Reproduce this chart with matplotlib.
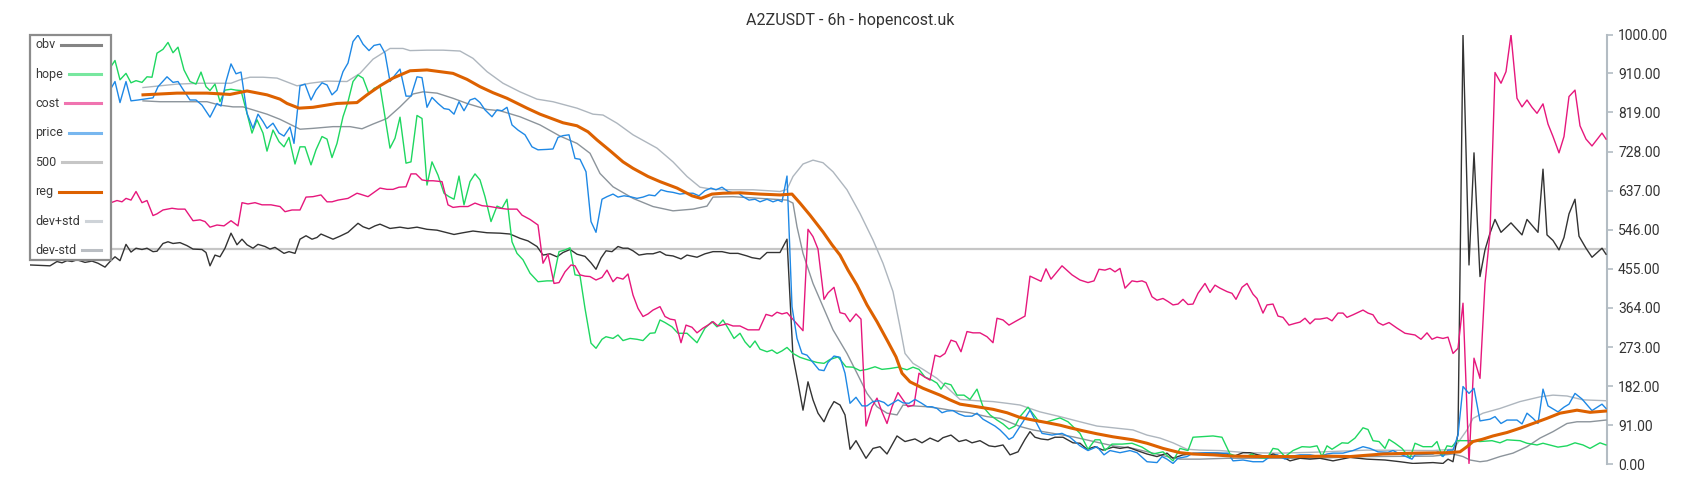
import matplotlib
matplotlib.use("Agg")
import matplotlib.pyplot as plt
from matplotlib.lines import Line2D
from matplotlib.patches import Rectangle

plt.rcParams['font.family'] = ['Roboto', 'DejaVu Sans']

title = "A2ZUSDT - 6h - hopencost.uk"
labels = ["obv", "hope", "cost", "price", "500", "reg", "dev+std", "dev-std"]
y_ticks = [0, 91, 182, 273, 364, 455, 546, 637, 728, 819, 910, 1000]
level_500 = 500
t_end = 1577

# (time step, value) pairs
obv = [(0,464),(20,462),(27,472),(32,469),(37,474),(42,472),(47,476),(55,470),(62,473),(68,468),(75,459),(80,472),(85,483),(90,474),(96,512),(101,494),(106,503),(112,500),(117,503),(123,495),(127,496),(133,514),(138,518),(143,514),(150,516),(157,509),(163,501),(172,500),(176,493),(180,462),(185,487),(190,483),(195,503),(201,538),(207,511),(212,524),(217,511),(223,503),(228,512),(235,507),(240,501),(245,505),(254,491),(259,495),(265,491),(270,524),(276,532),(282,524),(287,528),(291,536),(297,530),(303,524),(310,531),(318,540),(328,561),(333,553),(339,548),(345,555),(350,559),(360,549),(370,552),(378,549),(387,552),(397,547),(407,545),(417,539),(424,535),(433,539),(443,543),(457,539),(470,538),(480,536),(490,526),(498,520),(507,507),(513,487),(520,490),(527,483),(533,493),(540,500),(547,489),(555,484),(561,469),(566,454),(571,480),(576,497),(582,495),(588,507),(593,503),(598,503),(603,497),(609,487),(617,490),(623,490),(630,495),(636,487),(643,485),(651,478),(657,487),(667,482),(675,490),(683,495),(692,495),(700,491),(708,491),(717,485),(722,481),(730,478),(737,493),(750,493),(757,524),(763,250),(768,190),(773,126),(778,192),(783,150),(788,119),(794,99),(799,126),(804,146),(810,138),(815,115),(820,35),(826,55),(836,14),(843,37),(850,41),(857,24),(867,66),(875,53),(885,59),(892,50),(900,61),(908,53),(913,62),(921,68),(929,53),(936,57),(942,50),(950,55),(959,43),(965,41),(973,45),(980,22),(988,29),(995,58),(1000,76),(1005,63),(1011,59),(1018,57),(1025,63),(1033,63),(1043,50),(1050,49),(1057,35),(1065,41),(1073,33),(1083,40),(1090,37),(1098,40),(1107,32),(1117,24),(1127,18),(1137,26),(1143,14),(1153,22),(1163,24),(1177,26),(1187,26),(1197,24),(1203,18),(1213,27),(1220,27),(1228,22),(1237,18),(1243,24),(1252,18),(1260,8),(1270,14),(1280,12),(1290,14),(1303,8),(1320,16),(1337,12),(1355,10),(1370,6),(1383,2),(1403,4),(1413,2),(1418,12),(1423,6),(1428,72),(1433,1000),(1439,464),(1444,725),(1450,437),(1455,499),(1460,538),(1465,570),(1471,540),(1481,562),(1492,534),(1497,570),(1508,540),(1513,687),(1517,534),(1523,521),(1529,499),(1534,528),(1539,583),(1545,617),(1549,531),(1556,503),(1562,482),(1572,503),(1576,489)]

hope = [(0,920),(20,935),(40,905),(60,915),(81,926),(85,940),(90,895),(96,910),(101,888),(106,893),(112,889),(117,902),(122,901),(127,957),(133,966),(138,982),(143,958),(148,971),(154,918),(160,891),(166,885),(171,913),(176,879),(180,870),(185,885),(190,844),(195,871),(201,873),(206,871),(211,870),(217,817),(222,771),(227,802),(233,771),(237,729),(243,778),(249,751),(254,739),(259,761),(265,699),(270,739),(275,739),(281,697),(286,732),(292,763),(297,757),(302,714),(307,747),(313,809),(318,844),(323,891),(328,906),(333,899),(339,862),(344,875),(350,881),(355,809),(360,736),(365,759),(370,808),(376,701),(381,704),(387,812),(392,805),(397,650),(402,704),(408,673),(414,631),(419,623),(424,617),(429,671),(434,604),(440,658),(445,676),(450,662),(455,623),(461,565),(467,601),(472,596),(477,617),(482,518),(487,491),(493,476),(500,445),(508,425),(517,427),(523,427),(529,495),(535,499),(540,504),(545,441),(550,439),(555,363),(561,282),(566,270),(572,291),(576,297),(583,293),(588,301),(593,288),(600,293),(607,291),(613,288),(620,305),(625,306),(630,336),(635,330),(642,320),(648,305),(657,305),(667,283),(675,317),(682,332),(687,320),(693,336),(698,317),(704,293),(710,305),(715,285),(720,272),(725,287),(730,268),(737,262),(742,266),(747,258),(752,264),(757,272),(763,258),(770,249),(778,243),(787,237),(794,235),(800,244),(808,250),(816,227),(823,226),(830,218),(837,221),(845,227),(852,221),(860,223),(868,226),(877,220),(883,226),(889,221),(895,203),(902,196),(907,189),(911,175),(915,189),(921,185),(927,161),(934,161),(940,151),(947,175),(953,134),(960,115),(967,103),(973,94),(979,82),(985,89),(990,111),(998,133),(1009,99),(1017,99),(1030,108),(1038,99),(1050,72),(1058,35),(1065,57),(1070,57),(1075,32),(1082,47),(1092,47),(1102,49),(1112,40),(1123,24),(1133,29),(1143,8),(1150,37),(1158,32),(1163,63),(1183,66),(1192,63),(1200,24),(1208,18),(1217,19),(1222,24),(1228,16),(1237,14),(1243,37),(1248,35),(1255,18),(1263,32),(1272,41),(1280,40),(1287,43),(1292,18),(1297,43),(1302,35),(1312,50),(1318,49),(1325,61),(1333,85),(1338,81),(1343,55),(1349,53),(1355,37),(1359,58),(1365,49),(1372,37),(1380,14),(1385,49),(1393,41),(1402,41),(1407,53),(1412,19),(1417,43),(1422,41),(1427,55),(1440,55),(1450,53),(1462,55),(1470,50),(1477,57),(1490,55),(1497,49),(1507,45),(1513,49),(1528,40),(1537,43),(1545,50),(1553,45),(1560,37),(1570,50),(1576,45)]

cost = [(0,600),(20,598),(40,612),(60,604),(81,609),(87,614),(92,611),(96,619),(101,615),(106,635),(112,609),(117,614),(123,579),(127,583),(133,592),(142,596),(148,594),(155,594),(163,567),(170,569),(175,565),(180,552),(187,557),(194,555),(201,567),(208,555),(212,609),(218,606),(225,609),(232,604),(241,604),(250,600),(255,588),(262,592),(270,592),(276,622),(283,623),(291,627),(297,611),(302,611),(308,615),(318,619),(327,631),(330,629),(338,623),(350,643),(357,640),(363,640),(369,645),(376,646),(381,676),(386,676),(392,662),(397,660),(403,660),(412,658),(418,604),(423,598),(430,600),(438,600),(445,608),(452,602),(460,600),(470,596),(477,594),(487,594),(492,580),(500,570),(508,557),(513,468),(518,489),(524,421),(529,423),(535,448),(541,464),(545,462),(550,441),(555,438),(560,437),(566,429),(572,435),(577,452),(583,425),(587,435),(593,431),(598,443),(603,394),(608,363),(613,344),(618,350),(623,359),(630,367),(635,344),(640,338),(645,336),(651,283),(656,324),(662,319),(667,306),(673,317),(678,324),(683,332),(688,322),(697,327),(703,322),(710,322),(718,313),(723,313),(729,313),(736,349),(742,345),(747,354),(752,350),(757,353),(765,332),(773,311),(778,547),(783,530),(788,501),(794,384),(798,399),(804,412),(810,353),(815,350),(820,332),(826,350),(831,338),(836,89),(842,134),(847,154),(852,122),(857,95),(862,134),(868,167),(873,150),(878,134),(884,138),(889,212),(894,204),(900,196),(905,254),(910,250),(915,258),(921,289),(926,285),(931,262),(937,309),(943,306),(950,306),(957,297),(963,283),(967,340),(973,336),(979,324),(985,332),(995,345),(1000,438),(1011,426),(1016,455),(1021,431),(1032,462),(1042,441),(1050,429),(1058,423),(1064,427),(1069,454),(1075,452),(1080,456),(1085,448),(1090,456),(1095,410),(1102,427),(1107,425),(1112,427),(1116,423),(1122,390),(1127,382),(1133,386),(1138,379),(1143,371),(1148,373),(1153,384),(1158,372),(1163,373),(1168,398),(1175,421),(1180,400),(1185,417),(1190,410),(1197,402),(1202,398),(1206,384),(1212,412),(1217,421),(1223,396),(1227,386),(1233,352),(1237,371),(1243,373),(1248,345),(1253,342),(1259,324),(1265,328),(1270,331),(1275,340),(1280,327),(1285,338),(1290,338),(1297,341),(1302,334),(1308,352),(1313,352),(1317,342),(1323,348),(1333,359),(1338,352),(1343,348),(1348,330),(1353,324),(1359,330),(1367,317),(1375,305),(1385,301),(1391,291),(1397,306),(1402,291),(1407,296),(1413,293),(1418,296),(1423,258),(1428,270),(1433,375),(1439,2),(1444,247),(1450,200),(1455,421),(1460,538),(1465,912),(1471,887),(1476,914),(1481,1000),(1487,852),(1492,832),(1497,848),(1502,831),(1507,817),(1513,839),(1518,792),(1523,763),(1529,725),(1534,763),(1539,856),(1545,871),(1550,788),(1556,757),(1562,741),(1572,771),(1576,757)]

price = [(0,870),(20,880),(40,860),(60,875),(81,875),(85,891),(90,842),(96,891),(101,846),(108,848),(114,850),(123,853),(128,879),(137,902),(143,889),(148,891),(154,869),(160,848),(166,848),(172,836),(180,808),(187,840),(191,834),(196,891),(201,932),(206,909),(211,913),(217,817),(223,782),(228,815),(233,798),(237,782),(243,794),(249,771),(254,764),(260,785),(264,747),(270,881),(275,885),(281,848),(286,871),(292,888),(297,883),(302,860),(307,871),(313,914),(318,934),(323,984),(328,999),(333,978),(339,963),(344,975),(350,978),(355,957),(360,891),(365,906),(370,920),(376,857),(381,857),(387,902),(392,900),(397,831),(402,854),(408,840),(414,828),(419,826),(424,815),(429,844),(434,823),(440,848),(445,852),(450,842),(455,825),(462,809),(467,825),(472,823),(477,831),(482,790),(488,778),(495,767),(502,739),(508,732),(517,733),(523,734),(528,761),(533,765),(539,767),(545,712),(550,710),(556,681),(561,565),(566,540),(572,617),(577,623),(583,629),(588,622),(594,625),(600,623),(607,619),(613,622),(619,627),(625,625),(631,639),(637,635),(643,633),(650,629),(657,631),(663,631),(669,625),(675,637),(681,643),(686,639),(692,645),(698,635),(703,632),(708,632),(713,623),(719,615),(725,617),(730,611),(737,617),(743,611),(748,615),(752,611),(754,635),(757,671),(762,367),(767,293),(772,258),(777,254),(783,237),(789,220),(794,218),(798,237),(804,252),(810,249),(815,212),(820,142),(826,156),(832,136),(837,136),(843,146),(849,148),(854,144),(858,136),(863,143),(868,150),(873,143),(879,142),(885,151),(891,143),(897,134),(902,134),(907,130),(912,120),(917,124),(923,125),(929,117),(935,112),(942,112),(947,119),(953,105),(959,97),(965,89),(970,80),(976,66),(979,58),(983,63),(993,99),(1000,126),(1005,103),(1012,72),(1022,68),(1032,72),(1040,63),(1050,43),(1058,32),(1067,41),(1074,22),(1080,32),(1090,27),(1100,32),(1107,27),(1117,6),(1127,4),(1132,18),(1137,12),(1143,2),(1148,14),(1157,18),(1163,26),(1177,27),(1190,26),(1198,26),(1203,8),(1213,10),(1223,6),(1233,6),(1240,18),(1247,22),(1255,12),(1262,19),(1270,22),(1280,22),(1290,18),(1297,24),(1303,26),(1313,26),(1323,32),(1333,41),(1340,37),(1348,29),(1358,28),(1363,32),(1370,24),(1382,12),(1385,22),(1403,24),(1408,29),(1413,18),(1418,33),(1423,33),(1428,68),(1433,181),(1439,165),(1444,177),(1450,101),(1460,105),(1465,111),(1471,95),(1477,103),(1487,103),(1492,94),(1497,119),(1503,107),(1508,95),(1513,175),(1518,136),(1528,122),(1534,133),(1539,140),(1545,165),(1552,152),(1562,125),(1572,140),(1576,130)]

reg = [(113,860),(147,864),(177,864),(200,861),(217,869),(237,860),(250,850),(257,840),(269,829),(283,831),(307,840),(327,842),(337,860),(350,881),(363,899),(380,916),(397,918),(410,914),(423,910),(437,896),(450,879),(463,865),(477,852),(497,829),(510,815),(533,795),(547,788),(558,774),(567,755),(580,730),(593,704),(603,689),(618,670),(630,658),(647,643),(662,625),(671,619),(682,629),(693,631),(710,632),(730,629),(750,627),(762,629),(770,608),(780,580),(793,541),(802,511),(810,487),(818,452),(827,417),(837,371),(847,332),(858,285),(866,250),(872,212),(880,192),(893,177),(910,161),(920,150),(930,140),(947,134),(963,128),(977,120),(990,109),(1003,103),(1017,97),(1030,91),(1040,85),(1053,78),(1067,71),(1083,64),(1103,57),(1117,49),(1133,37),(1150,27),(1163,24),(1183,22),(1203,19),(1233,18),(1267,18),(1300,19),(1320,18),(1353,24),(1387,26),(1417,27),(1430,29),(1437,41),(1443,53),(1452,58),(1463,66),(1477,74),(1490,84),(1503,95),(1517,107),(1530,119),(1547,126),(1560,121),(1576,124)]

dev_plus = [(113,877),(130,881),(147,885),(170,887),(201,887),(210,895),(220,901),(233,901),(247,899),(267,881),(280,887),(297,892),(317,891),(330,910),(343,943),(360,968),(373,968),(380,963),(397,964),(413,964),(430,962),(443,945),(457,914),(473,887),(490,867),(507,850),(523,844),(547,829),(563,815),(573,813),(587,794),(603,767),(627,736),(643,704),(657,670),(670,645),(683,640),(703,639),(723,639),(737,637),(750,635),(757,640),(763,670),(773,699),(783,708),(793,702),(803,681),(817,639),(830,584),(843,522),(853,468),(863,402),(870,320),(875,258),(883,235),(893,221),(907,200),(917,179),(930,151),(947,148),(963,146),(977,142),(990,138),(1010,122),(1030,111),(1050,99),(1067,89),(1083,85),(1103,80),(1117,68),(1130,61),(1143,50),(1157,35),(1170,33),(1190,32),(1217,27),(1250,26),(1283,28),(1337,33),(1403,32),(1423,35),(1430,57),(1437,80),(1443,107),(1453,119),(1470,130),(1490,146),(1510,157),(1523,161),(1537,159),(1553,150),(1576,148)]

dev_minus = [(113,846),(130,844),(177,844),(190,836),(203,832),(213,832),(223,825),(237,815),(250,803),(257,795),(270,780),(283,782),(303,786),(320,786),(332,781),(343,792),(357,805),(370,832),(383,862),(393,867),(407,864),(423,852),(437,840),(457,826),(470,823),(490,809),(510,790),(530,764),(547,747),(560,724),(570,677),(583,646),(603,619),(623,600),(643,590),(663,594),(677,601),(683,622),(703,623),(730,619),(757,615),(763,608),(767,553),(773,491),(783,421),(793,367),(803,313),(817,258),(827,212),(837,165),(847,134),(857,119),(867,115),(873,138),(883,136),(897,134),(910,130),(923,125),(940,120),(957,111),(970,107),(990,88),(1003,80),(1023,72),(1043,64),(1060,55),(1083,43),(1103,37),(1123,26),(1137,18),(1150,12),(1170,12),(1197,14),(1250,14),(1283,14),(1337,18),(1403,19),(1423,24),(1433,18),(1440,10),(1450,6),(1457,8),(1470,18),(1483,26),(1497,41),(1510,61),(1523,76),(1537,95),(1547,99),(1560,99),(1576,103)]

colors = {"obv": "#333333", "hope": "#1ed760", "cost": "#e6177c", "price": "#1e88e5",
          "500": "#c6c6c6", "reg": "#dd6100", "dev+std": "#aeb6be", "dev-std": "#8c949b"}
widths = {"obv": 1.0, "hope": 1.0, "cost": 1.0, "price": 1.0,
          "500": 1.6, "reg": 2.2, "dev+std": 1.0, "dev-std": 1.0}
data = {"dev+std": dev_plus, "dev-std": dev_minus, "obv": obv, "hope": hope,
        "cost": cost, "price": price, "reg": reg}

W, H = 1700, 500
fig = plt.figure(figsize=(W / 100, H / 100), dpi=100)
ax = fig.add_axes([30 / W, 35.7 / H, 1577 / W, 429.6 / H])

ax.axhline(level_500, color=colors["500"], lw=widths["500"], zorder=1)
for z, (name, pts) in enumerate(data.items()):
    t, v = zip(*pts)
    ax.plot(t, v, color=colors[name], lw=widths[name], zorder=2 + z)

ax.set_xlim(0, t_end)
ax.set_ylim(0, 1000)
ax.set_xticks([])
ax.set_yticks(y_ticks)
ax.set_yticklabels([f"{v:.2f}" for v in y_ticks])
ax.yaxis.tick_right()
for s in ["left", "top", "bottom"]:
    ax.spines[s].set_visible(False)
ax.spines["right"].set_color("#b3bcc3")
ax.spines["right"].set_linewidth(1.5)
ax.tick_params(axis="y", length=4, width=1.2, color="#b3bcc3",
               labelcolor="#333333", labelsize=10, pad=4)

fig.suptitle(title, x=0.5, y=1 - 21 / H, va="center", fontsize=11.5, color="#333333")

# legend: text on the left, swatch stretched to the right edge
ax_w, ax_h = 1577, 429.6
box_w, box_h, row0, pitch = 80.7, 225, 10, 29.4
ax.add_patch(Rectangle((0, 1 - box_h / ax_h), box_w / ax_w, box_h / ax_h,
                       transform=ax.transAxes, facecolor="white", edgecolor="#8c8c8c",
                       lw=1.6, zorder=20, clip_on=False))
renderer = fig.canvas.get_renderer()
for i, lab in enumerate(labels):
    y = 1 - (row0 + pitch * i) / ax_h
    txt = ax.text(5 / ax_w, y, lab, transform=ax.transAxes, va="center", ha="left",
                  fontsize=9, color="#3a3a3a", zorder=21)
    bb = txt.get_window_extent(renderer)
    x0 = ax.transAxes.inverted().transform((bb.x1 + 6, 0))[0]
    alpha = 1.0 if lab in ("reg", "500") else 0.6
    ax.add_line(Line2D([x0, (box_w - 10) / ax_w], [y, y], transform=ax.transAxes,
                       color=colors[lab], alpha=alpha, lw=2.2, zorder=21, clip_on=False))

fig.savefig("out.png", dpi=100)
